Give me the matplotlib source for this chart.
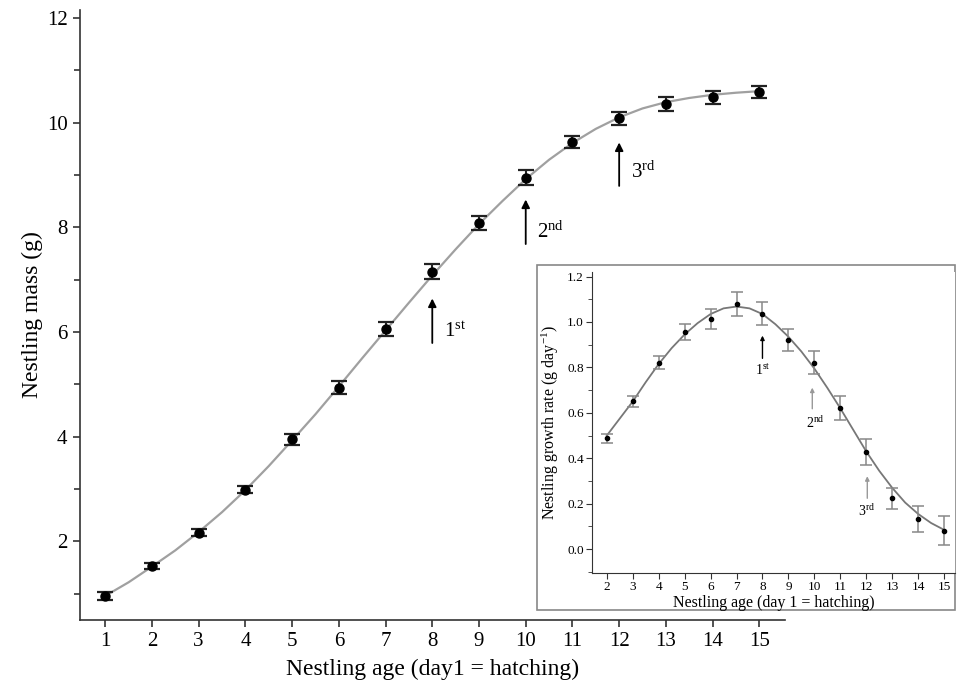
import matplotlib
matplotlib.use('Agg')
import matplotlib.pyplot as plt
from matplotlib.patches import Rectangle
from matplotlib.ticker import MultipleLocator
import numpy as np

plt.rcParams['font.family'] = ['Liberation Serif', 'DejaVu Serif']
plt.rcParams['mathtext.fontset'] = 'custom'
plt.rcParams['mathtext.rm'] = 'Liberation Serif'
plt.rcParams['mathtext.it'] = 'Liberation Serif:italic'

# main panel: nestling mass
age = [1, 2, 3, 4, 5, 6, 7, 8, 9, 10, 11, 12, 13, 14, 15]
mass = [0.96, 1.53, 2.17, 2.99, 3.95, 4.94, 6.06, 7.15, 8.08, 8.95, 9.63, 10.08, 10.35, 10.48, 10.58]
mass_err = [0.07, 0.05, 0.06, 0.07, 0.10, 0.12, 0.13, 0.14, 0.14, 0.14, 0.12, 0.13, 0.13, 0.12, 0.12]
fit_age = [1, 1.5, 2, 2.5, 3, 3.5, 4, 4.5, 5, 5.5, 6, 6.5, 7, 7.5, 8, 8.5, 9, 9.5,
           10, 10.5, 11, 11.5, 12, 12.5, 13, 13.5, 14, 14.5, 15]
fit_mass = [0.96, 1.22, 1.52, 1.83, 2.18, 2.56, 2.98, 3.44, 3.93, 4.43, 4.96, 5.50,
            6.03, 6.56, 7.08, 7.58, 8.06, 8.50, 8.92, 9.29, 9.61, 9.88, 10.10, 10.27,
            10.39, 10.47, 10.53, 10.57, 10.60]
mass_arrows = [(8, 5.79, 6.64, '1$^{\\mathrm{st}}$', 8.25, 6.0),
               (10, 7.68, 8.53, '2$^{\\mathrm{nd}}$', 10.25, 7.9),
               (12, 8.79, 9.62, '3$^{\\mathrm{rd}}$', 12.25, 9.05)]

# inset: growth rate
rate_age = [2, 3, 4, 5, 6, 7, 8, 9, 10, 11, 12, 13, 14, 15]
rate = [0.488, 0.65, 0.821, 0.955, 1.014, 1.08, 1.037, 0.921, 0.821, 0.62, 0.427, 0.224, 0.133, 0.082]
rate_err = [0.019, 0.023, 0.03, 0.035, 0.044, 0.054, 0.051, 0.05, 0.05, 0.052, 0.056, 0.047, 0.056, 0.062]
fit_rate_age = [2, 2.5, 3, 3.5, 4, 4.5, 5, 5.5, 6, 6.5, 7, 7.5, 8, 8.5, 9, 9.5,
                10, 10.5, 11, 11.5, 12, 12.5, 13, 13.5, 14, 14.5, 15]
fit_rate = [0.50, 0.575, 0.65, 0.735, 0.815, 0.885, 0.945, 0.995, 1.035, 1.06, 1.068,
            1.06, 1.035, 0.99, 0.935, 0.87, 0.795, 0.71, 0.62, 0.525, 0.43, 0.345,
            0.27, 0.205, 0.155, 0.115, 0.085]
rate_arrows = [(8, 0.84, 0.94, '1$^{\\mathrm{st}}$', 8.0, 0.785, 'black'),
               (9.92, 0.618, 0.711, '2$^{\\mathrm{nd}}$', 10.05, 0.555, '#999999'),
               (12.04, 0.224, 0.321, '3$^{\\mathrm{rd}}$', 12.0, 0.166, '#999999')]

fig = plt.figure(figsize=(9.57, 6.85), dpi=100)

ax = fig.add_axes([0.0836, 0.0949, 0.7367, 0.8905])
ax.plot(fit_age, fit_mass, color='#a0a0a0', lw=1.6, zorder=2)
ax.errorbar(age, mass, yerr=mass_err, fmt='o', color='black', ms=6.5,
            ecolor='#222222', elinewidth=1.5, capsize=5.5, capthick=1.6, zorder=3)
for x, y0, y1, lab, tx, ty in mass_arrows:
    ax.annotate('', xy=(x, y1), xytext=(x, y0),
                arrowprops=dict(arrowstyle='-|>', color='black', lw=1.3,
                                mutation_scale=12, shrinkA=0, shrinkB=0))
    ax.text(tx, ty, lab, fontsize=15, ha='left', va='center')
ax.set_xlim(0.46, 15.55)
ax.set_ylim(0.5, 12.15)
ax.set_xticks(age)
ax.yaxis.set_major_locator(MultipleLocator(2))
ax.yaxis.set_minor_locator(MultipleLocator(1))
ax.spines['top'].set_visible(False)
ax.spines['right'].set_visible(False)
for s in ['left', 'bottom']:
    ax.spines[s].set_color('#333333')
    ax.spines[s].set_linewidth(1.2)
ax.tick_params(axis='both', which='major', length=5, width=1.2, labelsize=15,
               colors='#333333', labelcolor='black', pad=4)
ax.tick_params(axis='y', which='minor', length=4, width=1.2, colors='#333333')
ax.set_xlabel('Nestling age (day1 = hatching)', fontsize=17, labelpad=5)
ax.set_ylabel('Nestling mass (g)', fontsize=17, labelpad=3)

box = Rectangle((0.5611, 0.1095), 0.4368, 0.5036, transform=fig.transFigure,
                facecolor='white', edgecolor='#888888', lw=1.2, zorder=1)
fig.add_artist(box)

ins = fig.add_axes([0.6186, 0.1635, 0.3793, 0.4394], zorder=2)
ins.plot(fit_rate_age, fit_rate, color='#777777', lw=1.3, zorder=2)
ins.errorbar(rate_age, rate, yerr=rate_err, fmt='o', color='black', ms=3,
             ecolor='#888888', elinewidth=1.1, capsize=4.5, capthick=1.1, zorder=3)
for x, y0, y1, lab, tx, ty, c in rate_arrows:
    ins.annotate('', xy=(x, y1), xytext=(x, y0),
                 arrowprops=dict(arrowstyle='-|>', color=c, lw=1.0,
                                 mutation_scale=6, shrinkA=0, shrinkB=0))
    ins.text(tx, ty, lab, fontsize=10, ha='center', va='center')
ins.set_xlim(1.43, 15.42)
ins.set_ylim(-0.105, 1.22)
ins.set_xticks(rate_age)
ins.yaxis.set_major_locator(MultipleLocator(0.2))
ins.yaxis.set_minor_locator(MultipleLocator(0.1))
ins.yaxis.set_major_formatter(plt.FormatStrFormatter('%.1f'))
ins.spines['top'].set_visible(False)
ins.spines['right'].set_visible(False)
for s in ['left', 'bottom']:
    ins.spines[s].set_color('#333333')
ins.tick_params(axis='both', which='major', length=4, labelsize=9.5, colors='#333333', labelcolor='black', pad=2)
ins.tick_params(axis='y', which='minor', length=3, colors='#333333')
ins.set_xlabel('Nestling age (day 1 = hatching)', fontsize=11.5, labelpad=1)
ins.set_ylabel('Nestling growth rate (g day$^{\\mathrm{-1}}$)', fontsize=11.5, labelpad=4)

fig.savefig('out.png', dpi=100)
